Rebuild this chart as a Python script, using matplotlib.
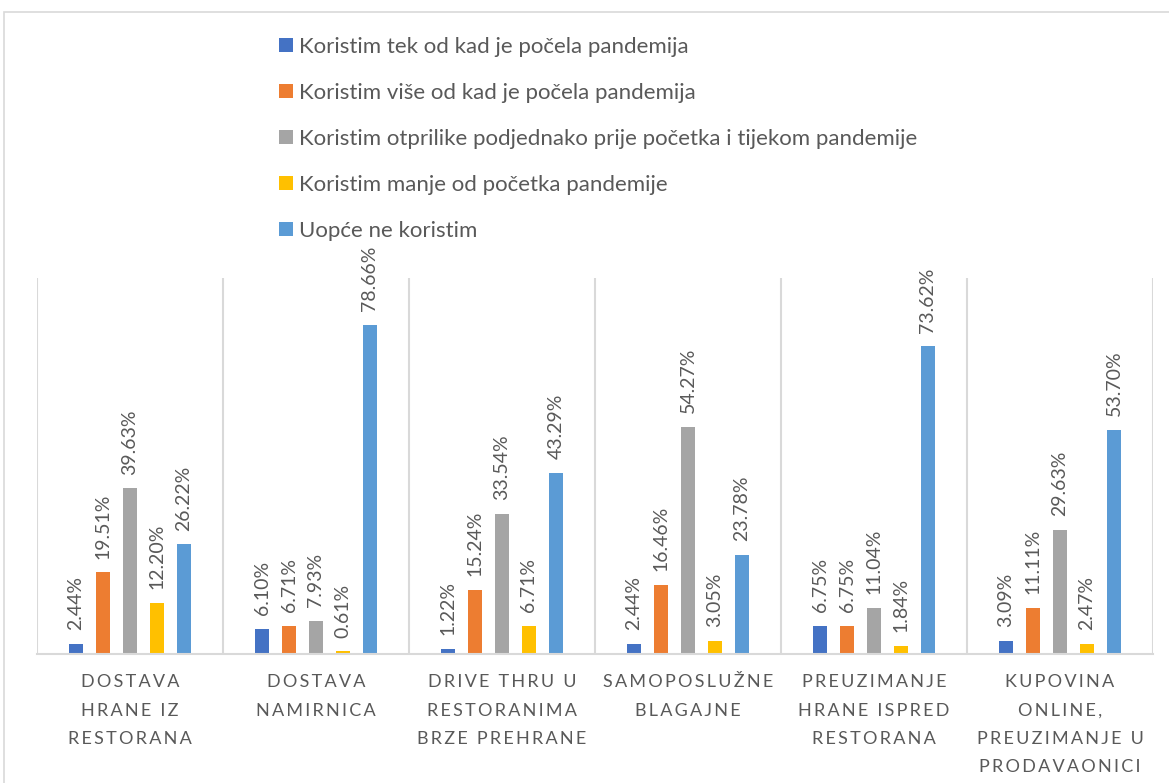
import matplotlib
matplotlib.use("Agg")
import matplotlib.pyplot as plt
import numpy as np
from matplotlib.patches import Rectangle

plt.rcParams["font.family"] = ["Lato", "DejaVu Sans"]

categories = [
    ["DOSTAVA", "HRANE IZ", "RESTORANA"],
    ["DOSTAVA", "NAMIRNICA"],
    ["DRIVE THRU U", "RESTORANIMA", "BRZE PREHRANE"],
    ["SAMOPOSLUŽNE", "BLAGAJNE"],
    ["PREUZIMANJE", "HRANE ISPRED", "RESTORANA"],
    ["KUPOVINA", "ONLINE,", "PREUZIMANJE U", "PRODAVAONICI"],
]
series_names = [
    "Koristim tek od kad je počela pandemija",
    "Koristim više od kad je počela pandemija",
    "Koristim otprilike podjednako prije početka i tijekom pandemije",
    "Koristim manje od početka pandemije",
    "Uopće ne koristim",
]
tek_od_pandemije = [2.44, 6.10, 1.22, 2.44, 6.75, 3.09]
vise_od_pandemije = [19.51, 6.71, 15.24, 16.46, 6.75, 11.11]
podjednako = [39.63, 7.93, 33.54, 54.27, 11.04, 29.63]
manje_od_pandemije = [12.20, 0.61, 6.71, 3.05, 1.84, 2.47]
ne_koristim = [26.22, 78.66, 43.29, 23.78, 73.62, 53.70]

series = [tek_od_pandemije, vise_od_pandemije, podjednako,
          manje_od_pandemije, ne_koristim]
colors = ["#4472C4", "#ED7D31", "#A5A5A5", "#FFC000", "#5B9BD5"]
text_grey = "#595959"
THIN = "\u2009"


def spaced(line):
    # wide tracking for the category captions
    return (THIN + " " + THIN).join(THIN.join(word) for word in line.split(" "))


fig = plt.figure(figsize=(11.69, 7.83), dpi=100)
fig.patches.append(Rectangle((4 / 1169, -0.1), 1.2, 1.1 - 12 / 783,
                             transform=fig.transFigure, fill=False,
                             edgecolor="#d9d9d9", linewidth=1.2))

ax = fig.add_axes([37 / 1169, 129 / 783, 1116 / 1169, 376 / 783])
x = np.arange(len(categories))
step = 0.145
width = 0.076

handles = []
for i, (vals, color) in enumerate(zip(series, colors)):
    bars = ax.bar(x + (i - 2) * step, vals, width, color=color,
                  label=series_names[i])
    ax.bar_label(bars, labels=[f"{v:.2f}%" for v in vals], rotation=90,
                 padding=10, fontsize=14, color=text_grey)
    handles.append(bars)

ax.set_xlim(-0.5, len(categories) - 0.5)
ax.set_ylim(0, 90)
ax.set_yticks([])
ax.set_xticks(x)
ax.set_xticklabels([])
ax.set_xticks(np.arange(len(categories) + 1) - 0.5, minor=True)
ax.tick_params(axis="x", which="both", length=0)
ax.grid(which="minor", axis="x", color="#d9d9d9", linewidth=1.5)
for side in ["top", "right", "left"]:
    ax.spines[side].set_visible(False)
ax.spines["bottom"].set_color("#d9d9d9")
ax.spines["bottom"].set_linewidth(1.5)

for xi, lines in zip(x, categories):
    ax.text(xi, -0.054, "\n".join(spaced(l) for l in lines),
            transform=ax.get_xaxis_transform(), ha="center", va="top",
            fontsize=13, color=text_grey, linespacing=1.95)

fig.legend(handles, series_names, loc="upper left",
           bbox_to_anchor=(279 / 1169, 1 - 37 / 783), frameon=False,
           borderpad=0, borderaxespad=0,
           fontsize=16, labelcolor=text_grey, handlelength=0.63,
           handleheight=0.6, handletextpad=0.27, labelspacing=1.17)

fig.savefig("out.png", dpi=100)
